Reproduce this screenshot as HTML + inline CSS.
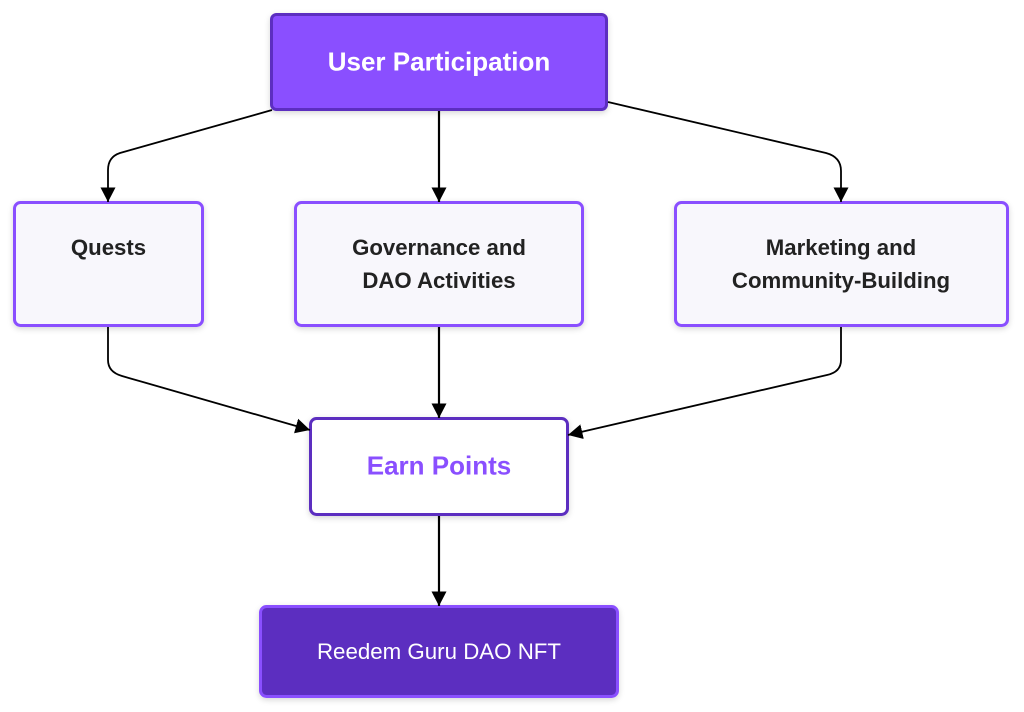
<!DOCTYPE html>
<html><head><meta charset="utf-8">
<style>
html,body{margin:0;padding:0;background:#fff;}
svg{display:block;filter:blur(0.35px);}
text{font-family:"Liberation Sans",sans-serif;text-anchor:middle;}
.b{font-weight:700;}
</style></head>
<body>
<svg width="1024" height="712" viewBox="0 0 1024 712" xmlns="http://www.w3.org/2000/svg">
<defs>
<filter id="s" x="-10%" y="-15%" width="120%" height="130%"><feDropShadow dx="0" dy="2" stdDeviation="3" flood-color="#000" flood-opacity="0.16"/></filter>
<marker id="a" markerUnits="userSpaceOnUse" markerWidth="18" markerHeight="18" refX="14.500" refY="9" orient="auto"><path d="M0 1.500L14.500 9L0 16.500Z" fill="#000"/></marker>
</defs>
<g filter="url(#s)">
<rect x="271.5" y="14.5" width="335" height="95" rx="5" fill="#8a4fff" stroke="#5b2fc0" stroke-width="3"/>
<rect x="14.5" y="202.5" width="188" height="123" rx="6" fill="#f8f7fc" stroke="#8a4fff" stroke-width="3"/>
<rect x="295.5" y="202.5" width="287" height="123" rx="6" fill="#f8f7fc" stroke="#8a4fff" stroke-width="3"/>
<rect x="675.5" y="202.5" width="332" height="123" rx="6" fill="#f8f7fc" stroke="#8a4fff" stroke-width="3"/>
<rect x="310.5" y="418.5" width="257" height="96" rx="6" fill="#fff" stroke="#5b2fc0" stroke-width="3"/>
<rect x="260.5" y="606.5" width="357" height="90" rx="6" fill="#5b2fc0" stroke="#8a4fff" stroke-width="3"/>
</g>
<g fill="none" stroke="#000" stroke-width="1.8">
<path d="M272 110L120 153Q108 157 108 170L108 202" marker-end="url(#a)"/>
<path d="M439 111L439 202" marker-end="url(#a)" stroke-width="2.2"/>
<path d="M608 102L826 153Q841 157 841 171L841 202" marker-end="url(#a)"/>
<path d="M108 327L108 360Q108 372 122 376L310 430" marker-end="url(#a)"/>
<path d="M439 327L439 418" marker-end="url(#a)" stroke-width="2.2"/>
<path d="M841 327L841 360Q841 372 827 375L568 435" marker-end="url(#a)"/>
<path d="M439 516L439 606" marker-end="url(#a)" stroke-width="2.2"/>
</g>
<text class="b" x="439" y="70.500" font-size="26" fill="#fff">User Participation</text>
<text class="b" x="108.500" y="255" font-size="22.2" fill="#222">Quests</text>
<text class="b" x="439" y="255" font-size="22.2" fill="#222">Governance and</text>
<text class="b" x="439" y="288" font-size="22.2" fill="#222">DAO Activities</text>
<text class="b" x="841" y="255" font-size="22.2" fill="#222">Marketing and</text>
<text class="b" x="841" y="288" font-size="22.2" fill="#222">Community-Building</text>
<text class="b" x="439" y="474.500" font-size="26" fill="#8a4fff">Earn Points</text>
<text x="439" y="659" font-size="22.3" fill="#fff">Reedem Guru DAO NFT</text>
</svg>
</body></html>
